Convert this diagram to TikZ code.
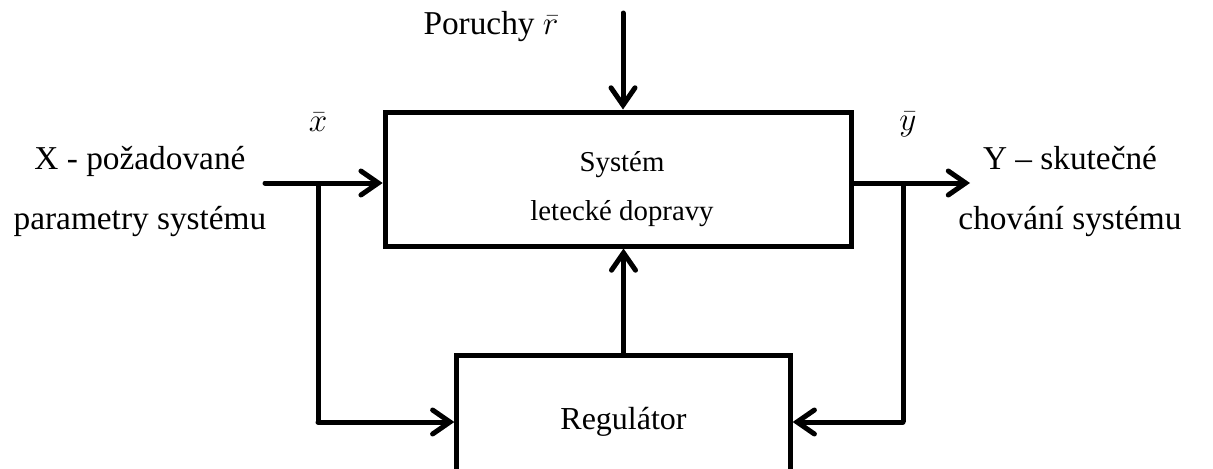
\documentclass[tikz,border=0pt]{standalone}
\usepackage{fontspec}
\setmainfont{Liberation Serif}
\usetikzlibrary{arrows.meta}

\tikzset{
    blok/.style={draw, line width=3.75pt, inner sep=0pt, align=center},
    sipka/.style={line width=3.75pt, line cap=round, line join=round,
        -{Straight Barb[length=13pt,width=18pt,line cap=round]}},
    vedeni/.style={line width=3.75pt, line join=round},
    popis/.style={align=center, font=\fontsize{25}{45}\selectfont}
}

\begin{document}
\begin{tikzpicture}[x=0.75pt, y=-0.75pt]
        % Okraje obrazku
        \clip (0,0) rectangle (1213,468);

        % Bloky
        \node[blok, minimum width=350pt, minimum height=100.5pt] (system) at (618.5,179) {};
        \node[align=center, font=\fontsize{21.6}{37}\selectfont] (systext) at (622,189)
              {Systém\\letecké dopravy};
        \node[blok, minimum width=250pt, minimum height=100pt,
              font=\fontsize{24}{30}\selectfont] (regulator) at (623.5,422)
              {Regulátor};

        % Vstup a vystup
        \node[popis] (vstup) at (140,191) {X - požadované\\parametry systému};
        \node[popis] (vystup) at (1070,191) {Y – skutečné\\chování systému};
        \node[popis] (poruchy) at (491,27) {Poruchy \raisebox{0pt}{$\bar{r}$}};
        \node[font=\fontsize{27}{30}\selectfont] (xlabel) at (318,122) {$\bar{x}$};
        \node[font=\fontsize{27}{30}\selectfont] (ylabel) at (908,124) {$\bar{y}$};

        \coordinate (xin) at (265,183);
        \coordinate (xb) at (318,183);
        \coordinate (yout) at (970,183);
        \coordinate (yb) at (903,183);
        \coordinate (rin) at (623,13);

        % Spojnice
        \draw[sipka] (xin) -- (xin -| system.west);
        \draw[sipka] (system.east |- yout) -- (yout);
        \draw[sipka] (rin) -- (rin |- system.north);
        \draw[sipka] (regulator.north) -- (regulator.north |- system.south);

        % Zpetne vazby
        \draw[vedeni] (xb) -- (xb |- regulator.west);
        \draw[sipka] (xb |- regulator.west) -- (regulator.west);
        \draw[vedeni] (yb) -- (yb |- regulator.east);
        \draw[sipka] (yb |- regulator.east) -- (regulator.east);
    \end{tikzpicture}
\end{document}
